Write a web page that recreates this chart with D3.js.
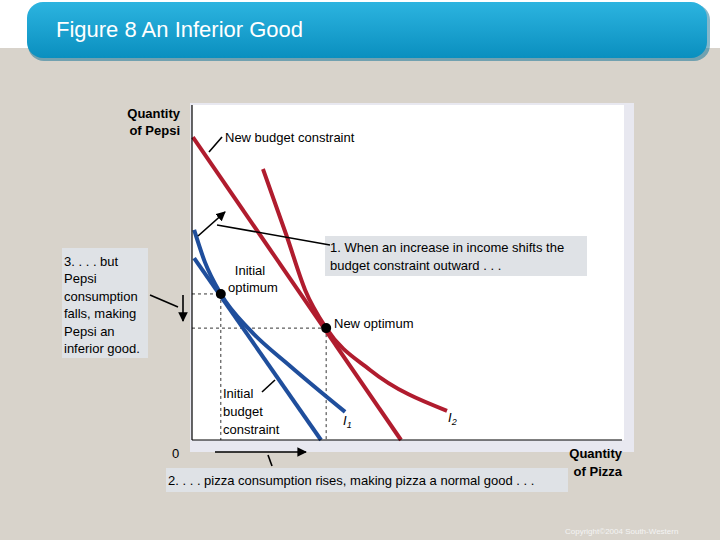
<!DOCTYPE html>
<html><head><meta charset="utf-8">
<script src="https://cdn.jsdelivr.net/npm/d3@7/dist/d3.min.js"></script>
<style>body{margin:0;}svg{display:block;font-family:Arial,"Liberation Sans",sans-serif;}</style>
</head><body><svg id="c" width="720" height="540"></svg>
<script>
const xDomain=[0,10], yDomain=[0,10];
const initialBudget=[[0.05,5.43],[3.0,0]];
const newBudget=[[0.02,9.04],[4.86,0]];
const curveI1=[[0.05,6.27],[0.3,5.31],[0.67,4.36],[1.35,3.28],[2.28,2.21],[3.56,0.84]];
const curveI2=[[1.65,8.09],[2.21,6.06],[2.63,4.48],[3.12,3.34],[4.14,2.09],[5.93,0.87]];
const optima=[[0.67,4.36],[3.12,3.34]];

const svg=d3.select("#c");
const defs=svg.append("defs");
const g1=defs.append("linearGradient").attr("id","hd").attr("x1",0).attr("y1",0).attr("x2",0).attr("y2",1);
g1.append("stop").attr("offset","0").attr("stop-color","#2cb4e0");
g1.append("stop").attr("offset","1").attr("stop-color","#0a8fbf");
defs.append("marker").attr("id","ar").attr("viewBox","0 0 10 10").attr("refX",9).attr("refY",5)
 .attr("markerWidth",6).attr("markerHeight",6).attr("orient","auto")
 .append("path").attr("d","M0,0L10,5L0,10z").attr("fill","#000");

svg.append("rect").attr("width",720).attr("height",540).attr("fill","#d8d3cb");
svg.append("rect").attr("width",720).attr("height",48).attr("fill","#ffffff");
svg.append("rect").attr("x",28).attr("y",4).attr("width",682).attr("height",57).attr("rx",16).attr("fill","#0a6f96").attr("opacity",0.5);
svg.append("rect").attr("x",27).attr("y",2).attr("width",680).attr("height",56).attr("rx",16).attr("fill","url(#hd)");
svg.append("text").attr("x",56).attr("y",37).attr("fill","#fff").attr("font-size",22).text("Figure 8 An Inferior Good");

svg.append("rect").attr("x",190).attr("y",103).attr("width",444).attr("height",349).attr("fill","#e8e8f0");
svg.append("rect").attr("x",192).attr("y",105).attr("width",432).attr("height",335).attr("fill","#fff");

const x=d3.scaleLinear().domain(xDomain).range([192,622]);
const y=d3.scaleLinear().domain(yDomain).range([440,105]);

const dash=svg.append("g").attr("stroke","#000").attr("stroke-dasharray","3,3").attr("stroke-width",0.8);
optima.forEach(p=>{
 dash.append("line").attr("x1",x(0)).attr("x2",x(p[0])).attr("y1",y(p[1])).attr("y2",y(p[1]));
 dash.append("line").attr("x1",x(p[0])).attr("x2",x(p[0])).attr("y1",y(p[1])).attr("y2",y(0));
});

const line=d3.line().x(d=>x(d[0])).y(d=>y(d[1]));
const curve=d3.line().x(d=>x(d[0])).y(d=>y(d[1])).curve(d3.curveMonotoneX);
svg.append("path").attr("d",line(newBudget)).attr("stroke","#b01c2e").attr("stroke-width",4).attr("fill","none");
svg.append("path").attr("d",curve(curveI2)).attr("stroke","#b01c2e").attr("stroke-width",4).attr("fill","none");
svg.append("path").attr("d",line(initialBudget)).attr("stroke","#1f4e9c").attr("stroke-width",4).attr("fill","none");
svg.append("path").attr("d",curve(curveI1)).attr("stroke","#1f4e9c").attr("stroke-width",4).attr("fill","none");
svg.selectAll(".opt").data(optima).enter().append("circle").attr("cx",d=>x(d[0])).attr("cy",d=>y(d[1])).attr("r",5).attr("fill","#000");

const ax=svg.append("g").attr("stroke","#000").attr("stroke-width",1.2);
ax.append("line").attr("x1",x(0)).attr("x2",x(0)).attr("y1",y(10)).attr("y2",y(0));
ax.append("line").attr("x1",x(0)).attr("x2",622).attr("y1",y(0)).attr("y2",y(0));

const T=(t,xx,yy,o={})=>{const e=svg.append("text").attr("x",xx).attr("y",yy).attr("font-size",o.s||13).attr("fill",o.c||"#000")
 .attr("text-anchor",o.a||"start").attr("font-weight",o.b?"bold":"normal").text(t);if(o.i)e.attr("font-style","italic");return e;};
T("Quantity",180,118,{a:"end",b:1}); T("of Pepsi",180,135,{a:"end",b:1});
T("Quantity",622,458,{a:"end",b:1}); T("of Pizza",622,476,{a:"end",b:1});
T("0",172,458);
T("New budget constraint",225,142);
T("Initial",250,275,{a:"middle"}); T("optimum",253,292,{a:"middle"});
T("New optimum",334,328);
T("Initial",223,398); T("budget",223,416); T("constraint",223,434);
const i1=T("I",343,425,{i:1}); i1.append("tspan").attr("font-size",9).attr("dy",3).text("1");
const i2=T("I",448,422,{i:1}); i2.append("tspan").attr("font-size",9).attr("dy",3).text("2");

svg.append("rect").attr("x",325).attr("y",236).attr("width",262).attr("height",40).attr("fill","#dfe2e6");
T("1. When an increase in income shifts the",330,252); T("budget constraint outward . . .",330,270);
svg.append("rect").attr("x",62).attr("y",248).attr("width",86).attr("height",110).attr("fill","#dfe2e6");
["3. . . . but","Pepsi","consumption","falls, making","Pepsi an","inferior good."].forEach((t,i)=>T(t,64,266+i*17.4));
svg.append("rect").attr("x",166).attr("y",468).attr("width",402).attr("height",24).attr("fill","#dfe2e6");
T("2. . . . pizza consumption rises, making pizza a normal good . . .",168,485);
T("Copyright©2004  South-Western",565,534,{s:8,c:"#f4f4f4"});

const L=(a,b,c,d,m)=>{const e=svg.append("line").attr("x1",a).attr("y1",b).attr("x2",c).attr("y2",d).attr("stroke","#000").attr("stroke-width",1.6);if(m)e.attr("marker-end","url(#ar)");};
L(209,152,222,137); L(198,236,225,212,1); L(217,225,330,245);
L(150,295,178,307); L(183,295,183,321,1);
L(262,392,275,380); L(215,452,306,452,1); L(268,455,272,466);
</script></body></html>
